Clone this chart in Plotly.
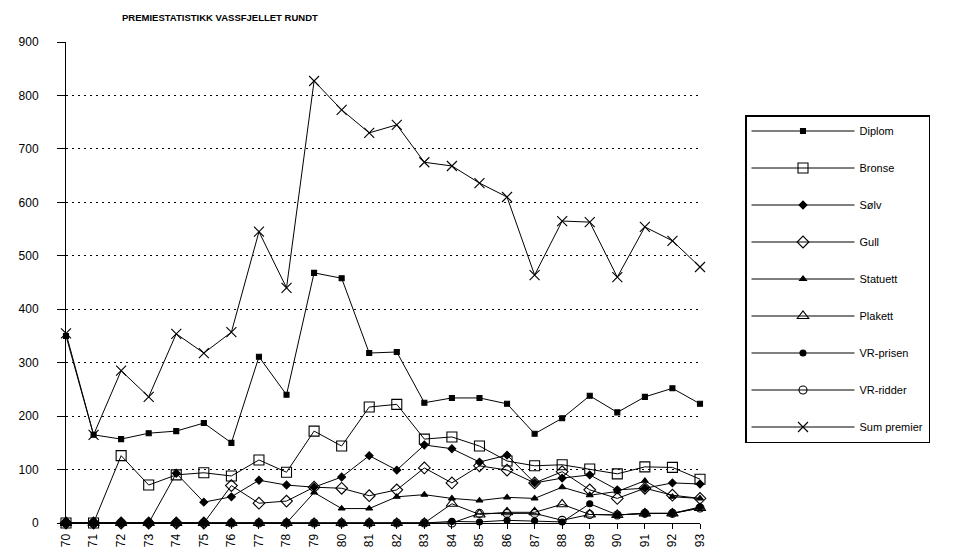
import plotly.graph_objects as go

years = list(range(70, 94))
year_labels = [str(y) for y in years]

diplom =   [350, 165, 157, 168, 172, 187, 150, 311, 240, 468, 458, 318, 320, 225, 234, 234, 223, 167, 196, 238, 207, 236, 252, 223]
bronse =   [0, 0, 126, 71, 90, 94, 88, 118, 95, 172, 144, 217, 222, 157, 161, 144, 116, 107, 109, 101, 92, 105, 104, 82]
solv =     [0, 0, 0, 0, 93, 39, 49, 80, 71, 67, 86, 126, 99, 146, 139, 114, 127, 75, 84, 90, 62, 65, 75, 73]
gull =     [0, 0, 0, 0, 0, 0, 70, 37, 41, 67, 65, 51, 62, 103, 75, 107, 99, 75, 96, 62, 46, 65, 52, 46]
statuett = [0, 0, 0, 0, 0, 0, 0, 0, 0, 57, 27, 27, 49, 53, 46, 42, 48, 46, 67, 52, 59, 79, 49, 46]
plakett =  [0, 0, 0, 0, 0, 0, 0, 0, 0, 0, 0, 0, 0, 0, 36, 16, 20, 20, 35, 16, 15, 18, 18, 28]
vr_prisen = [0, 0, 0, 0, 0, 0, 0, 0, 0, 0, 0, 0, 0, 0, 3, 2, 5, 4, 2, 36, 15, 18, 18, 30]
vr_ridder = [0, 0, 0, 0, 0, 0, 0, 0, 0, 0, 0, 0, 0, 0, 0, 18, 18, 18, 5, 16, 15, 18, 18, 28]
sum_premier = [355, 165, 285, 236, 354, 318, 357, 545, 440, 827, 773, 730, 745, 675, 668, 636, 610, 464, 565, 563, 460, 554, 528, 479]

series = [
    ("Diplom", diplom, "square", 5),
    ("Bronse", bronse, "square-open", 10),
    ("Sølv", solv, "diamond", 6),
    ("Gull", gull, "diamond-open", 9),
    ("Statuett", statuett, "triangle-up", 6),
    ("Plakett", plakett, "triangle-up-open", 10),
    ("VR-prisen", vr_prisen, "circle", 6),
    ("VR-ridder", vr_ridder, "circle-open", 8),
    ("Sum premier", sum_premier, "x-thin-open", 10),
]

FONT = "Liberation Sans, Arial, sans-serif"
W, H = 972, 547  # page body adds an 8px offset

fig = go.Figure()
for i, (name, vals, sym, size) in enumerate(series):
    fig.add_trace(go.Scatter(
        x=years, y=vals, name=name, mode="lines+markers",
        line=dict(color="black", width=1),
        marker=dict(symbol=sym, size=size, color="black",
                    line=dict(color="black", width=1.1)),
        cliponaxis=False, legendgroup=name,
    ))

fig.update_layout(
    width=W, height=H,
    margin=dict(l=58, r=280, t=34, b=32, autoexpand=False),
    paper_bgcolor="white", plot_bgcolor="white",
    font=dict(family=FONT, color="black", size=11),
    title=dict(text="<b>PREMIESTATISTIKK VASSFJELLET RUNDT</b>",
               x=114/W, xanchor="left", xref="container",
               y=1-10/H, yanchor="middle", yref="container",
               font=dict(size=9.5, family=FONT, color="black")),
    showlegend=True,
    legend=dict(x=(745-66)/634, xanchor="left", y=(523-115)/481, yanchor="top",
                bordercolor="black", borderwidth=1.5, bgcolor="white",
                font=dict(size=11, family=FONT), tracegroupgap=18,
                itemwidth=103),
)

fig.update_xaxes(
    range=[70, 93], tickmode="array", tickvals=years, ticktext=year_labels,
    tickangle=-90, tickfont=dict(size=12, family=FONT, color="black"),
    showgrid=False, zeroline=False, showline=True, linecolor="black", linewidth=1,
    ticks="outside", ticklen=5, tickcolor="black", automargin=False,
)
fig.update_yaxes(
    range=[0, 900], tickmode="array", tickvals=list(range(0, 1000, 100)),
    ticktext=[str(v) for v in range(0, 1000, 100)],
    tickfont=dict(size=12, family=FONT, color="black"),
    showgrid=True, gridcolor="black", gridwidth=1, griddash="2px,4px",
    zeroline=False, showline=True, linecolor="black", linewidth=1,
    ticks="outside", ticklen=8, tickcolor="black", ticklabelstandoff=16,
    automargin=False,
)

fig.write_html("out.html")
